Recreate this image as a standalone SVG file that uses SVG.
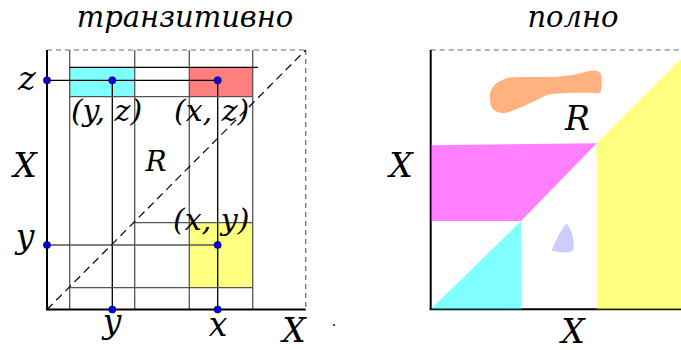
<svg xmlns="http://www.w3.org/2000/svg" width="681" height="350" viewBox="0 0 681 350">
<style>
.ax{stroke:#000;stroke-width:2;fill:none}
.thin{stroke:#555;stroke-width:1.3;fill:none}
.blk{stroke:#000;stroke-width:1.3;fill:none}
.bd{stroke:#666;stroke-width:1.2;stroke-dasharray:5 4;fill:none}
.diag{stroke:#000;stroke-width:1.2;stroke-dasharray:8 5;fill:none}
.dot{fill:#0000ee;stroke:#000;stroke-width:0.6}
.big{font-size:33px}
.mid{font-size:30px}
</style>
<rect width="681" height="350" fill="#fff"/>
<g font-family="DejaVu Serif, serif" font-style="italic" fill="#000">
<g id="title-left"><text x="185" y="27" font-size="29" text-anchor="middle">транзитивно</text></g>
<g id="title-right"><text x="573" y="27" font-size="29" text-anchor="middle">полно</text></g>
</g>
<g id="left-square">
<line class="bd" x1="47" y1="50" x2="305.7" y2="50"/>
<line class="bd" x1="305.7" y1="50" x2="305.7" y2="309.5"/>
</g>
<g id="boxes">
<rect x="69.7" y="67.3" width="65" height="29.4" fill="#00ffff" fill-opacity="0.5"/>
<rect x="189.3" y="67.3" width="63.4" height="29.4" fill="#ff0000" fill-opacity="0.5"/>
<rect x="189.3" y="222.7" width="63.4" height="65" fill="#ffff00" fill-opacity="0.5"/>
</g>
<g id="connectors">
<line class="thin" x1="69.7" y1="50" x2="69.7" y2="309.5"/>
<line class="thin" x1="134.7" y1="50" x2="134.7" y2="309.5"/>
<line class="thin" x1="189.3" y1="50" x2="189.3" y2="309.5"/>
<line class="thin" x1="252.7" y1="50" x2="252.7" y2="309.5"/>
<line class="blk" x1="112.3" y1="80.3" x2="112.3" y2="309.5"/>
<line class="blk" x1="217.7" y1="80.3" x2="217.7" y2="309.5"/>
<line class="blk" x1="69.7" y1="67.3" x2="258" y2="67.3"/>
<line class="blk" x1="47" y1="80.3" x2="217.7" y2="80.3"/>
<line class="thin" x1="69.7" y1="96.7" x2="252.7" y2="96.7"/>
<line class="thin" x1="134.7" y1="222.7" x2="252.7" y2="222.7"/>
<line class="thin" x1="47" y1="245" x2="217.7" y2="245"/>
<line class="thin" x1="69.7" y1="287.7" x2="252.7" y2="287.7"/>
<line class="diag" x1="47" y1="309.5" x2="305.7" y2="50"/>
<line class="ax" x1="47" y1="50" x2="47" y2="309.5"/>
<line class="ax" x1="46" y1="309.5" x2="305.7" y2="309.5"/>
</g>
<g id="dots">
<circle class="dot" cx="47" cy="80.3" r="3.6"/>
<circle class="dot" cx="112.3" cy="80.3" r="3.6"/>
<circle class="dot" cx="217.7" cy="80.3" r="3.6"/>
<circle class="dot" cx="47" cy="245" r="3.6"/>
<circle class="dot" cx="217.7" cy="245" r="3.6"/>
<circle class="dot" cx="112.3" cy="309.5" r="3.6"/>
<circle class="dot" cx="217.7" cy="309.5" r="3.6"/>
</g>
<g id="left-labels" font-family="DejaVu Serif, serif" font-style="italic" fill="#000">
<text class="big" x="27" y="90" text-anchor="middle">z</text>
<text class="big" x="25" y="177" text-anchor="middle">X</text>
<text class="big" x="25" y="248" text-anchor="middle">y</text>
<text class="big" x="112" y="333" text-anchor="middle">y</text>
<text class="big" x="218" y="336" text-anchor="middle">x</text>
<text class="big" x="294" y="342" text-anchor="middle">X</text>
<text class="mid" x="106.5" y="121" text-anchor="middle">(y, z)</text>
<text class="mid" x="211.7" y="121" text-anchor="middle">(x, z)</text>
<text class="mid" x="211.3" y="230" text-anchor="middle">(x, y)</text>
<text x="156" y="171" font-size="28" text-anchor="middle">R</text>
<text x="334" y="326" font-size="14" text-anchor="middle">.</text>
</g>

<g id="right-square">
<line class="bd" x1="430.7" y1="50" x2="681" y2="50"/>
<line class="ax" x1="430.7" y1="50" x2="430.7" y2="309.3"/>
<line class="ax" x1="429.7" y1="309.3" x2="681" y2="309.3"/>
</g>
<g id="region-magenta"><polygon points="430.7,145.3 596.7,143.3 521,221 430.7,221" fill="#ff00ff" fill-opacity="0.5"/></g>
<g id="region-cyan"><polygon points="430.7,309.3 521,221 521.7,309.3" fill="#00ffff" fill-opacity="0.5"/></g>
<g id="region-yellow"><polygon points="596.7,143.3 681,59 681,309.3 596.7,309.3" fill="#ffff00" fill-opacity="0.5"/></g>
<g id="region-orange"><path d="M490,100 C489,90 493,83 506.7,78.3 C515,76 530,77.3 545,77 C560,77 570,76 580,73.3 C588,71 594,69.5 598,71 C602,73 602,80 601.7,85 C601.5,90 601,93 599,93.3 C590,92.5 580,92.7 566,93 C555,93.5 548,94 543.3,96.7 C535,101 520,108 506.7,112.7 C497,114 490,110 490,100 Z" fill="#ff6600" fill-opacity="0.5"/></g>
<g id="region-lavender"><path d="M566.7,223.3 C570,228 573,235 573.5,241 C574,246 574,251 571,252 C565,253 558,252 551.7,250.7 C555,242 560,231 566.7,223.3 Z" fill="#9999ff" fill-opacity="0.5"/></g>
<g id="right-labels" font-family="DejaVu Serif, serif" font-style="italic" fill="#000">
<text class="big" x="577.5" y="130" text-anchor="middle">R</text>
<text class="big" x="401" y="177" text-anchor="middle">X</text>
<text class="big" x="573" y="343" text-anchor="middle">X</text>
</g>
</svg>
